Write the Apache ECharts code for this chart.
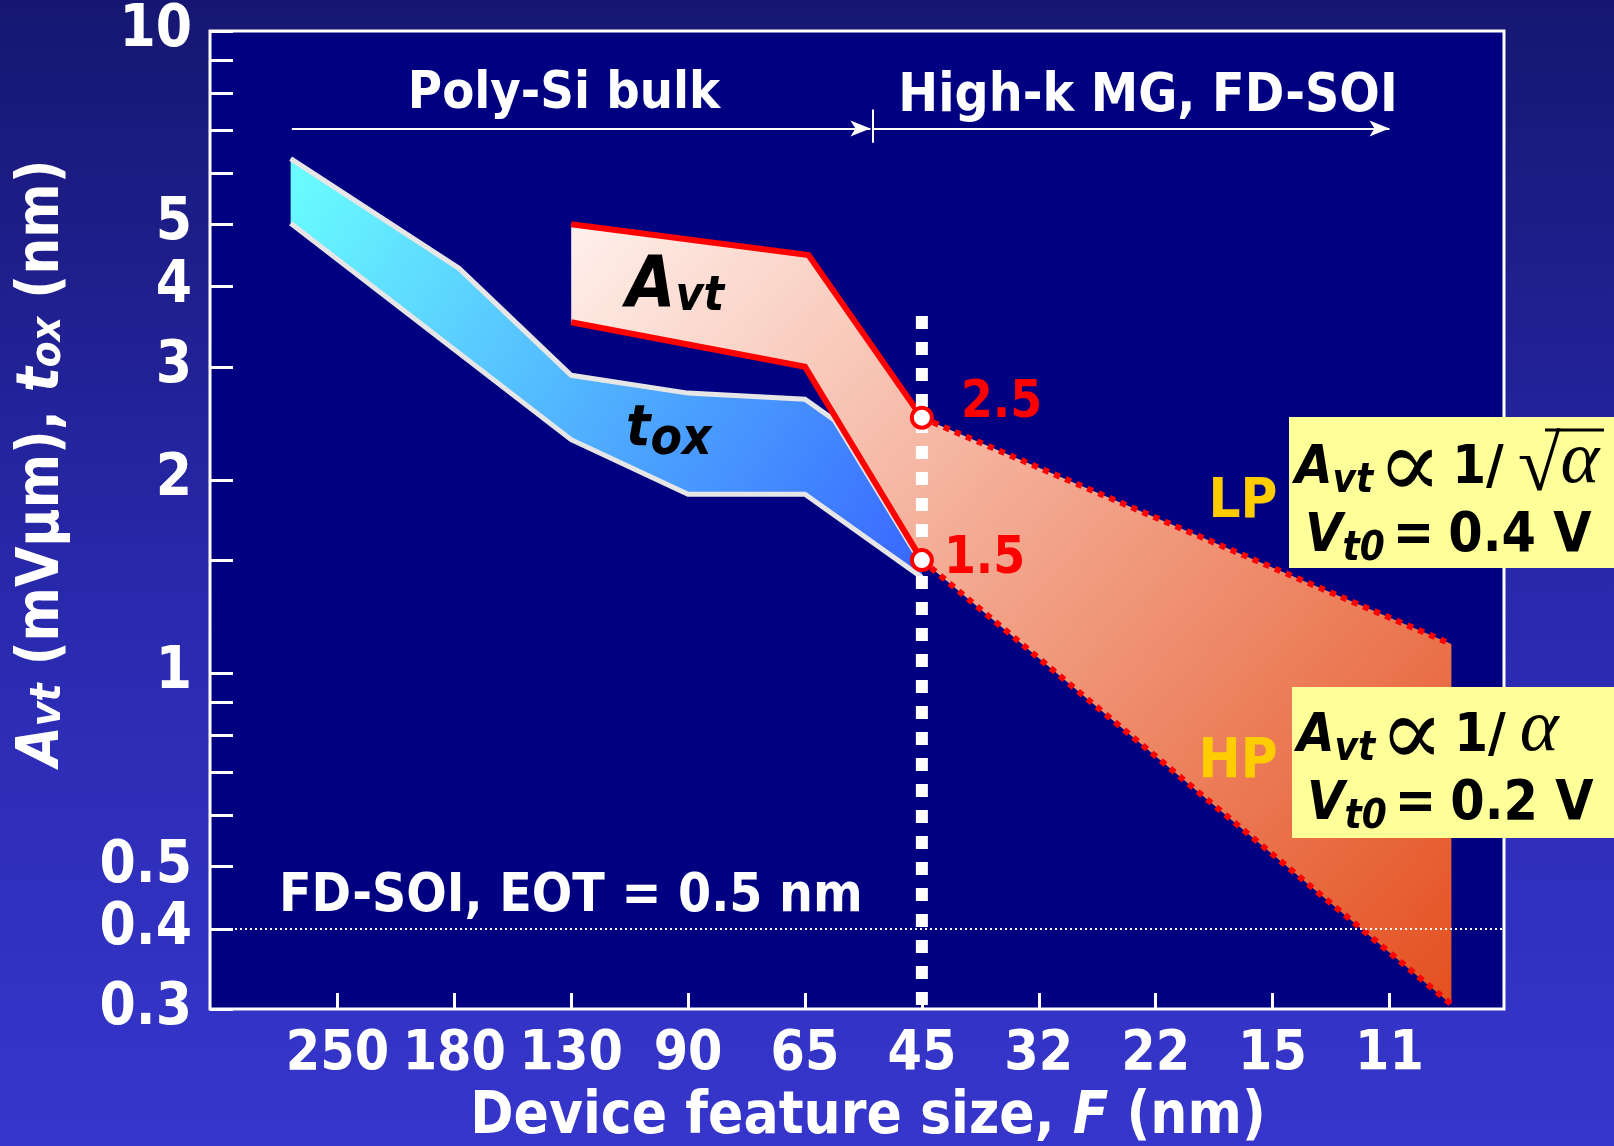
<!DOCTYPE html>
<html>
<head>
<meta charset="utf-8">
<script src="https://cdn.jsdelivr.net/npm/echarts@6/dist/echarts.min.js"></script>
<style>
html, body { margin: 0; padding: 0; }
#chart { width: 1614px; height: 1146px; background: linear-gradient(180deg, #161672 0%, #2a2ab0 55%, #3636cc 100%); }
</style>
</head>
<body>
<div id="chart"></div>
<script>
// x axis: technology nodes, placed at index 0..9
const nodes = ['250', '180', '130', '90', '65', '45', '32', '22', '15', '11'];
const nodeIdx = [0, 1, 2, 3, 4, 5, 6, 7, 8, 9];
// y axis (log)
const yLabelValues = [0.3, 0.4, 0.5, 1, 2, 3, 4, 5, 10];
const yTickValues = [0.3, 0.4, 0.5, 0.6, 0.7, 0.8, 0.9, 1, 1.5, 2, 3, 4, 5, 6, 7, 8, 9, 10];

// tox band [node index, nm]
const toxUpper = [[-0.40, 6.33], [1.04, 4.27], [2.0, 2.91], [3.0, 2.73], [4.0, 2.67], [4.25, 2.48], [5.0, 1.48]];
const toxLower = [[-0.40, 5.02], [2.0, 2.31], [3.0, 1.90], [4.0, 1.90], [5.0, 1.41]];
// Avt band [node index, mV um]
const avtUpper = [[2.0, 5.0], [4.03, 4.48], [5.0, 2.5]];
const avtLower = [[2.0, 3.52], [4.0, 3.0], [5.0, 1.5]];
// projection beyond 45 nm
const lpLine = [[5.0, 2.5], [9.53, 1.11]];
const hpLine = [[5.0, 1.5], [9.53, 0.305]];
const points45 = [[5, 2.5], [5, 1.5]];
const divider45 = [[5, 3.6], [5, 0.3]];
const eotLevel = 0.4;
// era arrows: start, split, end (node index) at height
const eraStart = -0.39, eraSplit = 4.58, eraEnd = 9.0, eraLevel = 7.05;

const FONT = "'DejaVu Sans Condensed','DejaVu Sans',sans-serif";
const SERIF = "'Liberation Serif','DejaVu Serif',serif";

const chart = echarts.init(document.getElementById('chart'));

function grad(c0, c1) {
  return new echarts.graphic.LinearGradient(0, 0, 1, 1, [
    { offset: 0, color: c0 }, { offset: 1, color: c1 }
  ]);
}

function band(upper, lower, c0, c1, z) {
  return {
    type: 'custom', z: z, silent: true, animation: false,
    data: [[5, 2]],
    renderItem: function (params, api) {
      const pts = upper.concat(lower.slice().reverse()).map(p => api.coord(p));
      return { type: 'polygon', shape: { points: pts }, style: { fill: grad(c0, c1) } };
    }
  };
}

function edge(data, color, width, type, z) {
  return {
    type: 'line', data: data, z: z, symbol: 'none', silent: true, animation: false,
    lineStyle: { color: color, width: width, type: type || 'solid', cap: 'butt', join: 'miter' }
  };
}

// rich token placed so that its baseline sits at `base` px below the line top
function tok(size, base, lh, opts, side) {
  const serif = opts && opts.fontFamily === SERIF;
  const pad = Math.max(0, base - size * (serif ? 0.8375 : 0.846));
  return Object.assign({
    fontSize: size, fontWeight: 'bold', fontFamily: FONT, fill: '#000', color: '#000',
    lineHeight: lh, verticalAlign: 'top',
    padding: [pad, side ? side[1] : 0, 0, side ? side[0] : 0]
  }, opts || {});
}

function text(x, y, str, size, color, align, extra) {
  return {
    type: 'text', x: x, y: y, z: 100, silent: true,
    style: Object.assign({
      text: str, fill: color, fontSize: size, fontWeight: 'bold', fontFamily: FONT,
      align: align || 'center', verticalAlign: 'middle'
    }, extra || {})
  };
}

const IT = { fontStyle: 'italic' };
const boxRich = {
  a: tok(54, 64, 80, IT),
  s: tok(40, 71, 80, IT),
  p: tok(96, 78, 80, { fontFamily: SERIF, fontWeight: 'normal' }, [4, 6]),
  e: tok(55, 64, 80, {}, [8, 14]),
  b: tok(55, 64, 80),
  k: tok(54, 64, 80, {}, [4, 14]),
  r: tok(78, 72, 80, { fontFamily: SERIF, fontWeight: 'normal' }),
  g: tok(74, 64, 80, { fontFamily: SERIF, fontWeight: 'normal', fontStyle: 'italic' }, [0, 4])
};

const W = { fill: '#fff', color: '#fff' };
const yTitleRich = {
  a: tok(58, 49, 64, Object.assign({ fontStyle: 'italic' }, W)),
  s: tok(42, 50, 64, Object.assign({ fontStyle: 'italic' }, W)),
  n: tok(58, 49, 64, W)
};
const avtRich = {
  a: tok(71, 60, 80, IT),
  s: tok(48, 62, 80, IT)
};
const toxRich = {
  a: tok(57, 48.2, 72, IT),
  s: tok(51, 56.2, 72, IT)
};

const option = {
  backgroundColor: 'transparent',
  animation: false,
  grid: {
    left: 210, right: 110, top: 31, bottom: 137, show: true,
    backgroundColor: '#000080', borderColor: '#ffffff', borderWidth: 3,
    outerBoundsMode: 'none'
  },
  xAxis: {
    type: 'value', min: -1.09, max: 9.98,
    splitLine: { show: false }, axisLine: { show: false, onZero: false },
    axisTick: { show: true, inside: true, length: 16, lineStyle: { color: '#fff', width: 3 }, customValues: nodeIdx },
    axisLabel: {
      customValues: nodeIdx, formatter: v => nodes[Math.round(v)],
      color: '#fff', fontSize: 55, fontWeight: 'bold', fontFamily: FONT, margin: 18
    }
  },
  yAxis: {
    type: 'log', logBase: 10, min: 0.3, max: 10,
    splitLine: { show: false }, axisLine: { show: false, onZero: false }, minorTick: { show: false },
    axisTick: { show: true, inside: true, length: 23, lineStyle: { color: '#fff', width: 3 }, customValues: yTickValues },
    axisLabel: {
      customValues: yLabelValues, formatter: v => String(v),
      color: '#fff', fontSize: 58, fontWeight: 'bold', fontFamily: FONT, margin: 18
    }
  },
  series: [
    band(toxUpper, toxLower, '#6affff', '#3866ff', 1),
    edge(toxUpper, '#e6e6e6', 5, 'solid', 2),
    edge(toxLower, '#e6e6e6', 5, 'solid', 2),
    band(avtUpper.concat(lpLine.slice(1)), avtLower.concat(hpLine.slice(1)), '#fff0ec', '#e4501f', 3),
    edge(avtUpper, '#ff0000', 6, 'solid', 4),
    edge(avtLower, '#ff0000', 6, 'solid', 4),
    edge(lpLine, '#ff0000', 6, [6, 6], 4),
    edge(hpLine, '#ff0000', 6, [6, 6], 4),
    Object.assign(edge(divider45, '#ffffff', 12, [13, 13], 5), {
      markLine: {
        silent: true, animation: false, symbol: ['none', 'none'], label: { show: false },
        data: [
          { yAxis: eotLevel, lineStyle: { color: '#ffffff', width: 2, type: [2, 3] } },
          [{ coord: [eraStart, eraLevel], lineStyle: { color: '#fff', width: 2, type: 'solid' } },
           { coord: [eraSplit - 0.02, eraLevel], symbol: 'arrow', symbolSize: [12, 20] }],
          [{ coord: [eraSplit, eraLevel], lineStyle: { color: '#fff', width: 2, type: 'solid' } },
           { coord: [eraEnd, eraLevel], symbol: 'arrow', symbolSize: [12, 20] }],
          [{ coord: [eraSplit, 7.55], lineStyle: { color: '#fff', width: 2, type: 'solid' } },
           { coord: [eraSplit, 6.7] }]
        ]
      }
    }),
    {
      type: 'scatter', z: 6, silent: true, animation: false,
      data: points45.map((p, i) => ({ value: p, label: { offset: i === 0 ? [21, -14] : [4, 0] } })),
      symbol: 'circle', symbolSize: 20,
      itemStyle: { color: '#fff', borderColor: '#ff0000', borderWidth: 4, opacity: 1 },
      label: {
        show: true, position: 'right', distance: 6, formatter: p => String(p.value[1]),
        color: '#ff0000', fontSize: 51, fontWeight: 'bold', fontFamily: FONT
      }
    }
  ],
  graphic: [
    text(564, 94, 'Poly-Si bulk', 52, '#fff'),
    text(1148, 97, 'High-k MG, FD-SOI', 53, '#fff'),
    text(279, 897, 'FD-SOI, EOT = 0.5 nm', 53, '#fff', 'left'),
    text(626, 292, '{a|A}{s|vt}', 70, '#000', 'left', { rich: avtRich }),
    text(626, 438, '{a|t}{s|ox}', 57, '#000', 'left', { rich: toxRich }),
    text(1243, 502, 'LP', 56, '#ffcc00'),
    text(1238, 762, 'HP', 56, '#ffcc00'),
    {
      type: 'text', x: 46, y: 463, rotation: Math.PI / 2, z: 100, silent: true,
      style: {
        text: '{a|A}{s|vt}{n| (mVμm), }{a|t}{s|ox}{n| (nm)}', align: 'center', verticalAlign: 'middle',
        fontSize: 58, fontFamily: FONT, fill: '#fff', rich: yTitleRich
      }
    },
    {
      type: 'text', x: 868, y: 1121, z: 100, silent: true,
      style: {
        text: '{n|Device feature size, }{a|F}{n| (nm)}', align: 'center', verticalAlign: 'middle',
        fontSize: 58, fontFamily: FONT, fill: '#fff', rich: yTitleRich
      }
    },
    { type: 'rect', z: 90, silent: true, shape: { x: 1289, y: 417, width: 325, height: 151 }, style: { fill: '#ffff99' } },
    { type: 'rect', z: 90, silent: true, shape: { x: 1292, y: 687, width: 322, height: 151 }, style: { fill: '#ffff99' } },
    text(1295, 464, '{a|A}{s|vt}{p|∝}{k|1/}{r|√}{g|α}', 54, '#000', 'left', { rich: boxRich }),
    text(1305, 532, '{a|V}{s|t0}{e|=}{b|0.4 V}', 54, '#000', 'left', { rich: boxRich }),
    text(1297, 732, '{a|A}{s|vt}{p|∝}{k|1/}{g|α}', 54, '#000', 'left', { rich: boxRich }),
    text(1307, 800, '{a|V}{s|t0}{e|=}{b|0.2 V}', 54, '#000', 'left', { rich: boxRich }),
    { type: 'line', z: 101, silent: true, shape: { x1: 1545, y1: 430, x2: 1604, y2: 430 }, style: { stroke: '#000', lineWidth: 3 } }
  ]
};

chart.setOption(option);
</script>
</body>
</html>
